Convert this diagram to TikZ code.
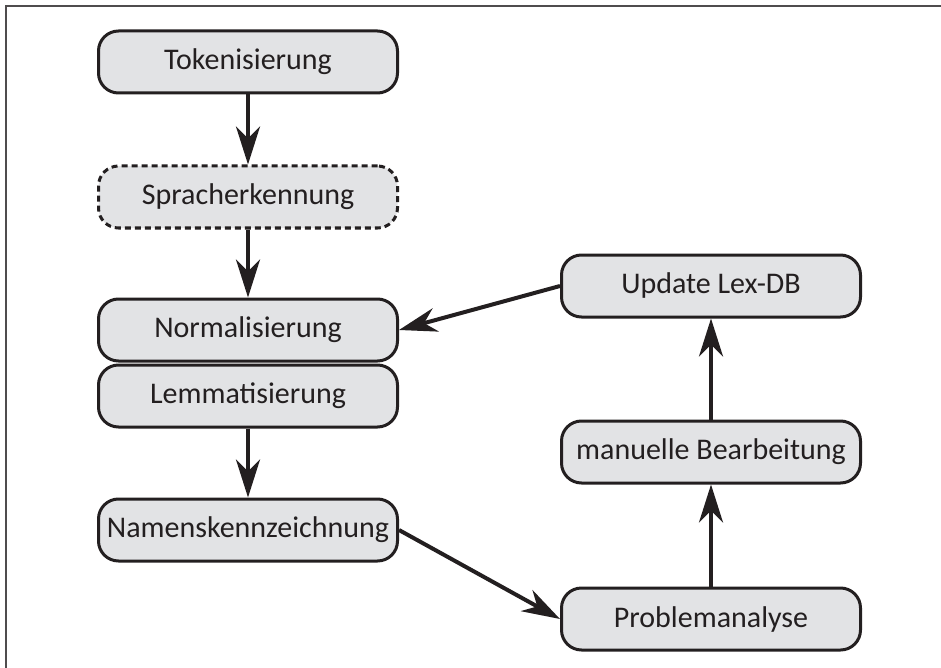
\documentclass[tikz,border=0pt]{standalone}
\usepackage{fontspec}
\setmainfont{Carlito}
\usetikzlibrary{arrows.meta}
\definecolor{boxfill}{HTML}{E2E3E5}
\definecolor{ink}{HTML}{231F20}
\begin{document}
\begin{tikzpicture}[x=1pt,y=-1pt,
  box/.style={draw=ink, line width=3pt, fill=boxfill, rounded corners=20pt,
    minimum width=299pt, minimum height=62pt, inner sep=0pt,
    text=ink, font=\fontsize{30}{36}\selectfont},
  dbox/.style={box, dash pattern=on 6pt off 4pt},
  conn/.style={draw=ink, line width=4pt,
    -{Stealth[length=38pt,width=24pt,inset=12pt]}}]
\useasboundingbox (0,0) rectangle (941,668);
\draw[line width=2pt, draw=ink!80] (941,6) -- (6,6) -- (6,668);
\node[box]  (tok)  at (248,62)  {Tokenisierung};
\node[dbox] (spr)  at (248,197) {Spracherkennung};
\node[box]  (norm) at (248,330) {Normalisierung};
\node[box]  (lem)  at (248,396) {Lemmatisierung};
\node[box]  (nam)  at (248,530) {Namenskennzeichnung};
\node[box]  (upd)  at (711,286) {Update Lex-DB};
\node[box]  (man)  at (711,452) {manuelle Bearbeitung};
\node[box]  (prob) at (711,619) {Problemanalyse};
\draw[conn] (tok.south) -- (spr.north);
\draw[conn] (spr.south) -- (norm.north);
\draw[conn] (lem.south) -- (nam.north);
\draw[conn] (nam.east) -- (prob.west);
\draw[conn] (prob.north) -- (man.south);
\draw[conn] (man.north) -- (upd.south);
\draw[conn] (upd.west) -- (norm.east);
\end{tikzpicture}
\end{document}
